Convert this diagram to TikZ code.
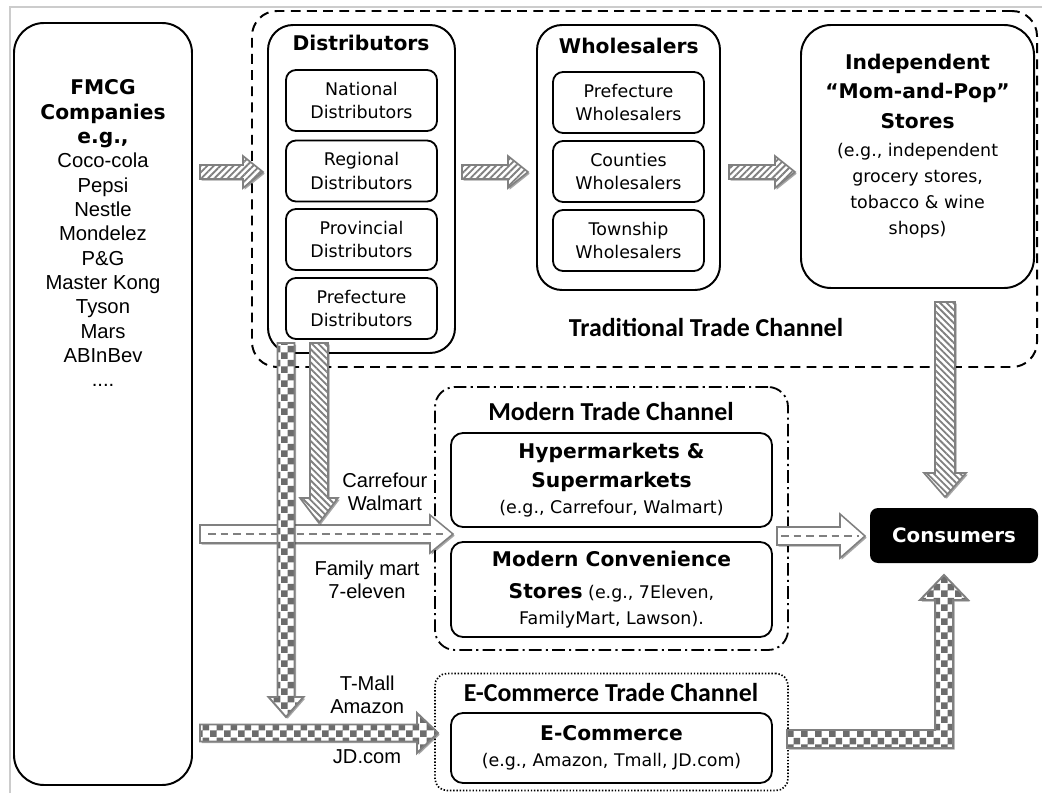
\documentclass[tikz,border=0pt]{standalone}
\usepackage{fontspec}
\usepackage{tikz}
\usetikzlibrary{positioning}
\usetikzlibrary{calc,shapes,shadows,patterns.meta}

\newfontfamily\verd{DejaVu Sans}
\newfontfamily\arl{Liberation Sans}
\newfontfamily\calib{Carlito}

\pgfdeclarepatternformonly{bigchecker}{\pgfpointorigin}{\pgfqpoint{10pt}{10pt}}{\pgfqpoint{10pt}{10pt}}{%
  \pgfpathrectangle{\pgfpointorigin}{\pgfqpoint{5pt}{5pt}}%
  \pgfpathrectangle{\pgfqpoint{5pt}{5pt}}{\pgfqpoint{5pt}{5pt}}%
  \pgfusepath{fill}}

% style, start, end, half shaft, half head, head length
\newcommand{\fatarrow}[6]{%
  \coordinate (fabase) at ($(#3)!#6!(#2)$);
  \path[#1] ($(#2)!#4!90:(#3)$) -- ($(fabase)!#4!90:(#3)$) -- ($(fabase)!#5!90:(#3)$) -- (#3)
    -- ($(fabase)!#5!-90:(#3)$) -- ($(fabase)!#4!-90:(#3)$) -- ($(#2)!#4!-90:(#3)$) -- cycle;}

\tikzset{
  outerbox/.style={draw, line width=1.4pt, rounded corners=0.75cm, inner sep=0pt},
  innerbox/.style={draw, line width=1.3pt, rounded corners=0.25cm, minimum width=3.775cm, minimum height=1.525cm, inner sep=0pt, align=center, font=\verd\fontsize{12.4}{17}\selectfont},
  storebox/.style={draw, line width=1.3pt, rounded corners=0.3cm, minimum width=8.025cm, inner sep=0pt, align=center, font=\verd\fontsize{12.4}{18.5}\selectfont},
  boxtitle/.style={inner sep=0pt, font=\verd\bfseries\fontsize{14.4}{17}\selectfont},
  chtitle/.style={inner sep=0pt, font=\calib\bfseries\fontsize{18.4}{22}\selectfont},
  shop/.style={inner sep=0pt, align=center, font=\arl\fontsize{14.3}{16.4}\selectfont},
  tradbox/.style={draw, line width=1.4pt, dash pattern=on 7pt off 4.5pt, rounded corners=0.625cm, inner sep=0pt},
  modbox/.style={draw, line width=1.3pt, dash pattern=on 9pt off 3pt on 1.5pt off 3pt, rounded corners=0.5cm, inner sep=0pt},
  ecombox/.style={draw, line width=1.2pt, dash pattern=on 1pt off 1.3pt, rounded corners=0.3cm, inner sep=0pt},
  consbox/.style={fill=black, text=white, rounded corners=0.2cm, minimum width=4.2cm, minimum height=1.375cm, inner sep=0pt, font=\verd\bfseries\fontsize{14.1}{17}\selectfont},
  arrowshadow/.style={drop shadow={shadow xshift=1.2pt, shadow yshift=-1.2pt, opacity=0.35, fill=black}},
  hatcharrow/.style={fill=white, arrowshadow, postaction={pattern={Lines[angle=45,distance=3.3pt,line width=1.3pt]}, pattern color=gray}, postaction={draw=gray, line width=1.2pt}},
  vhatcharrow/.style={fill=white, arrowshadow, postaction={pattern={Lines[angle=-45,distance=3.3pt,line width=1.3pt]}, pattern color=gray}, postaction={draw=gray, line width=1.2pt}},
  checkarrow/.style={fill=white, arrowshadow, postaction={pattern=bigchecker, pattern color=gray!85!black}, postaction={draw=gray, line width=1.4pt}},
  whitearrow/.style={fill=white, draw=gray, line width=1.1pt, arrowshadow},
  dashmid/.style={draw=gray, line width=0.9pt, dash pattern=on 5.5pt off 3.5pt},
}

\begin{document}
\begin{tikzpicture}

\useasboundingbox (0,0) rectangle (26.05,19.825);
\draw[gray!40, line width=0.8pt] (0.25,0) -- (0.25,19.65) -- (26.05,19.65);

% FMCG companies
\node[outerbox, minimum width=4.45cm, minimum height=19.05cm] (fmcg) at (2.575,9.725) {};
\node[align=center, inner sep=0pt, font=\arl\fontsize{14.4}{17.3}\selectfont] (fmcglist) at (2.575,13.99)
  {{\verd\bfseries FMCG}\\{\verd\bfseries Companies}\\{\verd\bfseries e.g.,}\\Coco-cola\\Pepsi\\Nestle\\Mondelez\\P\&G\\Master Kong\\Tyson\\Mars\\ABInBev\\....};

% Traditional trade channel
\node[tradbox, minimum width=19.625cm, minimum height=8.9cm] (tradch) at (16.1125,15.1) {};
\node[chtitle] (tradtitle) at (17.65,11.625) {Traditional Trade Channel};

\node[outerbox, rounded corners=0.625cm, minimum width=4.675cm, minimum height=8.2cm] (dist) at (9.0375,15.1) {};
\node[boxtitle] (disttitle) at (9.025,18.75) {Distributors};
\node[innerbox] (natdist) at (9.0375,17.3125) {National\\Distributors};
\node[innerbox] (regdist) at (9.0375,15.55) {Regional\\Distributors};
\node[innerbox] (provdist) at (9.0375,13.8375) {Provincial\\Distributors};
\node[innerbox] (prefdist) at (9.0375,12.1125) {Prefecture\\Distributors};

\node[outerbox, rounded corners=0.625cm, minimum width=4.575cm, minimum height=6.625cm] (whole) at (15.7125,15.8875) {};
\node[boxtitle] (wholetitle) at (15.72,18.675) {Wholesalers};
\node[innerbox] (prefwhole) at (15.7125,17.2625) {Prefecture\\Wholesalers};
\node[innerbox] (cntywhole) at (15.7125,15.5375) {Counties\\Wholesalers};
\node[innerbox] (twnwhole) at (15.7125,13.8125) {Township\\Wholesalers};

\node[outerbox, minimum width=5.825cm, minimum height=6.575cm] (indep) at (22.9375,15.9125) {};
\node[align=center, inner sep=0pt, font=\verd\fontsize{12.4}{18.5}\selectfont] (indeptext) at (22.94,16.18)
  {{\fontsize{14.4}{18.5}\selectfont\bfseries Independent}\\[2.8pt]{\fontsize{14.4}{18.5}\selectfont\bfseries “Mom-and-Pop”}\\[2.8pt]{\fontsize{14.4}{18.5}\selectfont\bfseries Stores}\\[1pt](e.g., independent\\grocery stores,\\tobacco \& wine\\shops)};

% Modern trade channel
\node[modbox, minimum width=8.825cm, minimum height=6.575cm] (modch) at (15.2875,6.8625) {};
\node[chtitle] (modtitle) at (15.275,9.525) {Modern Trade Channel};
\node[storebox, minimum height=2.35cm] (hyper) at (15.2875,7.825)
  {{\bfseries\fontsize{14.4}{20}\selectfont Hypermarkets \&}\\[2pt]{\bfseries\fontsize{14.4}{20}\selectfont Supermarkets}\\(e.g., Carrefour, Walmart)};
\node[storebox, minimum height=2.375cm] (conv) at (15.2875,5.0875)
  {{\bfseries\fontsize{14.4}{18.5}\selectfont Modern Convenience}\\[4pt]{\bfseries\fontsize{14.4}{18.5}\selectfont Stores} (e.g., 7Eleven,\\FamilyMart, Lawson).};

% E-commerce trade channel
\node[ecombox, minimum width=8.825cm, minimum height=2.925cm] (ecomch) at (15.2875,1.525) {};
\node[chtitle] (ecomtitle) at (15.275,2.5) {E-Commerce Trade Channel};
\node[storebox, minimum height=1.75cm] (ecom) at (15.2875,1.125)
  {{\bfseries\fontsize{14.4}{19}\selectfont E-Commerce}\\(e.g., Amazon, Tmall, JD.com)};

\node[consbox] (cons) at (23.85,6.4375) {Consumers};

% retailer names
\node[shop] (carrefour) at (9.62,7.5375) {Carrefour\\Walmart};
\node[shop] (familymart) at (9.175,5.325) {Family mart\\7-eleven};
\node[shop] (tmall) at (9.18,2.45) {T-Mall\\Amazon};
\node[shop] (jd) at (9.175,0.9) {JD.com};

% arrow ends
\coordinate (a1s) at (5.0,15.525);
\coordinate (a1e) at (6.575,15.525);
\coordinate (a2s) at (11.55,15.525);
\coordinate (a2e) at (13.2,15.525);
\coordinate (a3s) at (18.225,15.525);
\coordinate (a3e) at (19.875,15.525);
\coordinate (a4s) at (23.625,12.275);
\coordinate (a4e) at (23.625,7.4);
\coordinate (a5s) at (7.975,11.25);
\coordinate (a5e) at (7.975,6.75);
\coordinate (a6s) at (7.15,11.25);
\coordinate (a6e) at (7.15,1.9);
\coordinate (a7s) at (5.0,1.5);
\coordinate (a7e) at (10.95,1.5);
\coordinate (a8s) at (5.0,6.475);
\coordinate (a8e) at (11.325,6.475);
\coordinate (a9s) at (19.425,6.425);
\coordinate (a9e) at (21.625,6.425);
\coordinate (a10s) at (19.675,1.35);
\coordinate (a10c) at (23.6,1.35);
\coordinate (a10e) at (23.6,5.45);

% supply arrows
\fatarrow{hatcharrow}{a1s}{a1e}{0.175cm}{0.4cm}{0.5cm}
\fatarrow{hatcharrow}{a2s}{a2e}{0.175cm}{0.4cm}{0.5cm}
\fatarrow{hatcharrow}{a3s}{a3e}{0.175cm}{0.4cm}{0.5cm}
\fatarrow{vhatcharrow}{a4s}{a4e}{0.25cm}{0.525cm}{0.6cm}

\fatarrow{whitearrow}{a8s}{a8e}{0.225cm}{0.475cm}{0.575cm}
\draw[dashmid] ($(a8s)+(0.2,0)$) -- ($(a8e)+(-0.15,0)$);
\fatarrow{whitearrow}{a9s}{a9e}{0.225cm}{0.55cm}{0.625cm}
\draw[dashmid] ($(a9s)+(0.1,0)$) -- ($(a9e)+(-0.15,0)$);

\fatarrow{vhatcharrow}{a5s}{a5e}{0.225cm}{0.475cm}{0.625cm}
\fatarrow{checkarrow}{a6s}{a6e}{0.2125cm}{0.4375cm}{0.5cm}
\fatarrow{checkarrow}{a7s}{a7e}{0.2125cm}{0.5cm}{0.525cm}

\path[checkarrow] ($(a10s)+(0,0.225)$) -- ($(a10c)+(-0.225,0.225)$) -- ($(a10e)+(-0.225,-0.625)$)
  -- ($(a10e)+(-0.6,-0.625)$) -- (a10e) -- ($(a10e)+(0.6,-0.625)$) -- ($(a10e)+(0.225,-0.625)$)
  -- ($(a10c)+(0.225,-0.225)$) -- ($(a10s)+(0,-0.225)$) -- cycle;

\end{tikzpicture}
\end{document}
